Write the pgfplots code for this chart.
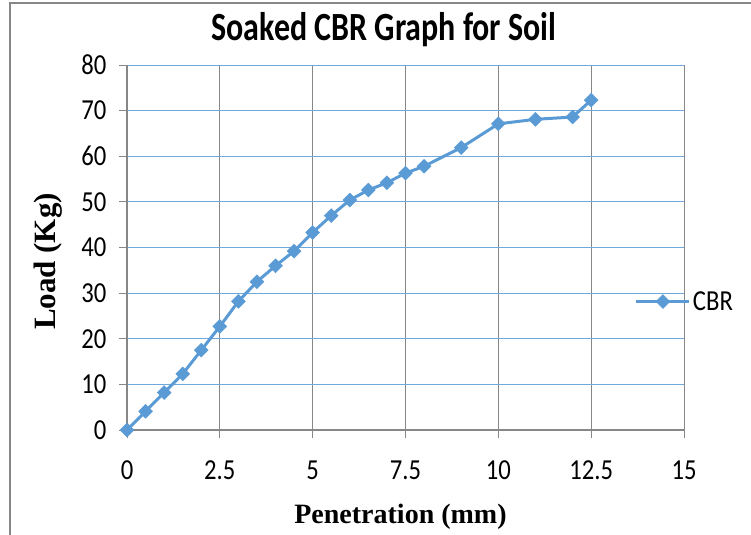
\documentclass[border=0pt]{standalone}
\usepackage{pgfplots}
\pgfplotsset{compat=1.18}
\usepackage{fontspec}
\newfontfamily\calfont[FakeStretch=0.85]{Carlito}
\newfontfamily\titlefont[FakeStretch=0.8]{Carlito}
\newfontfamily\serfont{Liberation Serif}
\definecolor{cbrblue}{HTML}{5B9BD5}
\definecolor{gridblue}{HTML}{6FA8DC}
\definecolor{axgray}{HTML}{878787}

\begin{document}
\begin{tikzpicture}
\path[use as bounding box] (0,0) rectangle (751bp,-535bp);
\begin{axis}[
    at={(127bp,-430bp)}, anchor=south west,
    scale only axis,
    width=557bp, height=365bp,
    xmin=0, xmax=15, ymin=0, ymax=80,
    xtick={0,2.5,5,7.5,10,12.5,15},
    xticklabels={0,2.5,5,7.5,10,12.5,15},
    ytick={0,10,20,30,40,50,60,70,80},
    yticklabels={0,10,20,30,40,50,60,70,80},
    axis x line*=bottom, axis y line*=left,
    axis line style={draw=axgray, line width=1.5bp, -},
    tick align=outside,
    major tick length=8bp,
    tick style={draw=axgray, line width=1bp},
    grid=major,
    x grid style={draw=axgray, line width=1bp},
    y grid style={draw=gridblue, line width=1bp},
    tick label style={font=\calfont\fontsize{29bp}{31bp}\selectfont, text=black},
    xticklabel style={yshift=-19bp},
    yticklabel style={xshift=-9bp},
    clip=false,
    title={\titlefont\bfseries\fontsize{40bp}{42bp}\selectfont Soaked CBR Graph for Soil},
    title style={at={(rel axis cs:0.4614,1.052)}, anchor=base, inner sep=0pt},
    xlabel={\serfont\bfseries\fontsize{28bp}{30bp}\selectfont Penetration (mm)},
    xlabel style={at={(rel axis cs:0.491,-0.2548)}, anchor=base, inner sep=0pt},
    ylabel={\serfont\bfseries\fontsize{31bp}{33bp}\selectfont Load (Kg)},
    ylabel style={at={(rel axis cs:-0.1275,0.4616)}, rotate=0, anchor=base, inner sep=0pt},
    legend style={at={(0.912,0.352)}, anchor=west, draw=none, fill=none,
        inner sep=0pt, outer sep=0pt,
        font=\calfont\fontsize{29bp}{31bp}\selectfont,
        nodes={inner sep=2bp}},
    legend cell align=left,
    legend image code/.code={%
        \draw[mark repeat=2, mark phase=2, #1]
        plot coordinates {(0bp,0bp) (26.5bp,0bp) (53bp,0bp)};},
]
\addplot[color=cbrblue, line width=3bp, mark=square*,
    mark size=4.9bp, mark options={rotate=45, solid, fill=cbrblue, draw=cbrblue, line width=0.5bp}]
table {
0    0
0.5  4.1
1    8.2
1.5  12.3
2    17.5
2.5  22.7
3    28.2
3.5  32.5
4    36.0
4.5  39.2
5    43.3
5.5  47.0
6    50.4
6.5  52.6
7    54.2
7.5  56.3
8    57.8
9    61.9
10   67.1
11   68.1
12   68.6
12.5 72.3
};
\addlegendentry{CBR}
\end{axis}
\begin{scope}
\clip (0,0) rectangle (751bp,-535bp);
\draw[axgray, line width=2bp] (10bp,-3bp) rectangle (800bp,-600bp);
\end{scope}
\end{tikzpicture}
\end{document}
